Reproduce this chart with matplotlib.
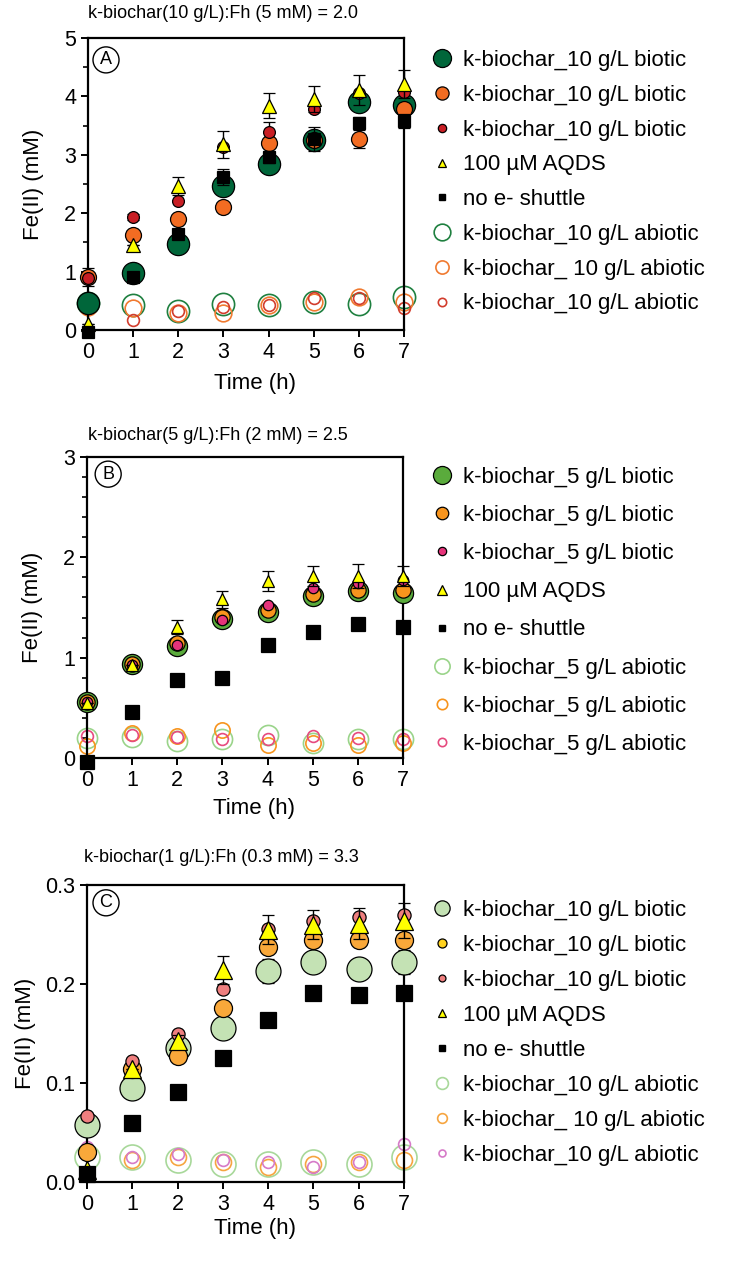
import numpy as np
import matplotlib
matplotlib.use("Agg")
import matplotlib.pyplot as plt
from matplotlib.lines import Line2D
from matplotlib.ticker import MultipleLocator

plt.rcParams['font.family'] = ['Liberation Sans', 'DejaVu Sans']

hours = [0, 1, 2, 3, 4, 5, 6, 7]

# ---- panel A : k-biochar 10 g/L, Fh 5 mM
a_bio1 = [0.46, 0.98, 1.47, 2.47, 2.85, 3.25, 3.90, 3.86]
a_bio2 = [0.91, 1.63, 1.90, 2.11, 3.20, 3.25, 3.27, 3.78]
a_bio3 = [0.89, 1.93, 2.21, 3.14, 3.39, 3.78, 4.06, 4.08]
a_aqds = [0.10, 1.46, 2.47, 3.18, 3.84, 3.96, 4.11, 4.21]
a_none = [-0.03, 0.90, 1.64, 2.62, 2.96, 3.27, 3.54, 3.58]
a_abio1 = [0.46, 0.43, 0.32, 0.44, 0.42, 0.48, 0.44, 0.57]
a_abio2 = [0.40, 0.38, 0.29, 0.29, 0.43, 0.48, 0.57, 0.48]
a_abio3 = [0.37, 0.17, 0.33, 0.40, 0.42, 0.54, 0.54, 0.38]
a_bio2_sd = [0.16, 0, 0.05, 0.05, 0, 0, 0.15, 0]
a_bio3_sd = [0, 0.05, 0, 0, 0.18, 0, 0, 0]
a_aqds_sd = [0, 0, 0.15, 0.23, 0.21, 0.22, 0.25, 0.24]
a_none_sd = [0, 0, 0, 0.13, 0.10, 0.20, 0.10, 0.12]

# ---- panel B : k-biochar 5 g/L, Fh 2 mM
b_bio1 = [0.56, 0.94, 1.12, 1.39, 1.46, 1.61, 1.66, 1.64]
b_bio2 = [0.56, 0.94, 1.15, 1.41, 1.48, 1.63, 1.67, 1.67]
b_bio3 = [0.56, 0.93, 1.13, 1.38, 1.52, 1.69, 1.74, 1.77]
b_aqds = [0.55, 0.93, 1.31, 1.58, 1.76, 1.81, 1.81, 1.81]
b_none = [-0.04, 0.46, 0.78, 0.80, 1.13, 1.26, 1.34, 1.31]
b_abio1 = [0.20, 0.21, 0.17, 0.19, 0.23, 0.15, 0.19, 0.19]
b_abio2 = [0.12, 0.25, 0.22, 0.28, 0.13, 0.15, 0.13, 0.15]
b_abio3 = [0.22, 0.23, 0.21, 0.19, 0.19, 0.22, 0.20, 0.19]
b_bio2_sd = [0, 0, 0, 0, 0.03, 0.03, 0.04, 0.03]
b_aqds_sd = [0, 0, 0.07, 0.08, 0.10, 0.10, 0.12, 0.10]
b_none_sd = [0, 0, 0, 0, 0, 0.03, 0.03, 0.02]

# ---- panel C : k-biochar 1 g/L, Fh 0.3 mM
c_bio1 = [0.058, 0.095, 0.135, 0.156, 0.213, 0.222, 0.215, 0.222]
c_bio2 = [0.030, 0.114, 0.127, 0.176, 0.237, 0.244, 0.244, 0.244]
c_bio3 = [0.067, 0.122, 0.149, 0.195, 0.256, 0.264, 0.268, 0.270]
c_aqds = [0.012, 0.114, 0.142, 0.214, 0.255, 0.260, 0.261, 0.264]
c_none = [0.008, 0.060, 0.091, 0.125, 0.164, 0.191, 0.189, 0.191]
c_abio1 = [0.025, 0.025, 0.022, 0.018, 0.018, 0.020, 0.018, 0.025]
c_abio2 = [0.030, 0.022, 0.025, 0.020, 0.015, 0.018, 0.020, 0.022]
c_abio3 = [0.035, 0.025, 0.028, 0.022, 0.020, 0.015, 0.020, 0.038]
c_bio1_sd = [0, 0, 0, 0, 0.012, 0.010, 0.010, 0.012]
c_bio2_sd = [0, 0, 0.006, 0.005, 0.004, 0.004, 0.004, 0.004]
c_aqds_sd = [0, 0, 0.006, 0.014, 0.015, 0.015, 0.016, 0.018]
c_none_sd = [0, 0, 0, 0, 0.005, 0.005, 0.005, 0.006]

titles = ["k-biochar(10 g/L):Fh (5 mM) = 2.0",
          "k-biochar(5 g/L):Fh (2 mM) = 2.5",
          "k-biochar(1 g/L):Fh (0.3 mM) = 3.3"]
labels_a = ["k-biochar_10 g/L biotic"] * 3 + ["100 \u00b5M AQDS", "no e- shuttle",
            "k-biochar_10 g/L abiotic", "k-biochar_ 10 g/L abiotic", "k-biochar_10 g/L abiotic"]
labels_b = ["k-biochar_5 g/L biotic"] * 3 + ["100 \u00b5M AQDS", "no e- shuttle"] + \
           ["k-biochar_5 g/L abiotic"] * 3
labels_c = labels_a

W, H = 746, 1265
fig = plt.figure(figsize=(W / 100, H / 100), dpi=100)


def add_axes(left, top, right, bottom):
    return fig.add_axes([left / W, 1 - bottom / H, (right - left) / W, (bottom - top) / H])


def draw_panel(ax, bio, abio, aqds, none, sds, fills, opens, sizes, osizes, tri_ms, sq_ms):
    ekw = dict(ecolor='black', elinewidth=1.0, capsize=4, capthick=1.0, ls='none')
    # abiotic controls (open circles) at the back
    for y, c, s in zip(abio, opens, osizes):
        ax.plot(hours, y, 'o', ms=s, mfc='none', mec=c, mew=1.2, clip_on=False, zorder=2)
    for y, c, s, sd in zip(bio, fills, sizes, sds[:3]):
        ax.errorbar(hours, y, yerr=sd, fmt='o', ms=s, mfc=c, mec='black', mew=0.9,
                    clip_on=False, zorder=3, **ekw)
    ax.errorbar(hours, aqds, yerr=sds[3], fmt='^', ms=tri_ms, mfc='#ffff00', mec='black',
                mew=0.9, clip_on=False, zorder=4, **ekw)
    ax.errorbar(hours, none, yerr=sds[4], fmt='s', ms=sq_ms, mfc='black', mec='black',
                mew=0.9, clip_on=False, zorder=5, **ekw)


def style_axes(ax, ymax, major, minor, fmt, letter, letter_xy, ylab_x, xlab_y):
    ax.set_xlim(0, 7)
    ax.set_ylim(0, ymax)
    ax.xaxis.set_major_locator(MultipleLocator(1))
    ax.yaxis.set_major_locator(MultipleLocator(major))
    if minor:
        ax.yaxis.set_minor_locator(MultipleLocator(minor))
    ax.yaxis.set_major_formatter(fmt)
    for sp in ax.spines.values():
        sp.set_linewidth(1.6)
    ax.tick_params(which='major', direction='out', length=5, width=1.4, labelsize=15.5)
    ax.tick_params(which='minor', direction='out', length=3.5, width=1.2)
    ax.set_xlabel("Time (h)", fontsize=16)
    ax.set_ylabel("Fe(II) (mM)", fontsize=16)
    ax.xaxis.set_label_coords(0.53, xlab_y)
    ax.yaxis.set_label_coords(ylab_x, 0.5)
    ax.text(letter_xy[0], letter_xy[1], letter, transform=ax.transAxes, fontsize=13,
            ha='center', va='center',
            bbox=dict(boxstyle='circle,pad=0.25', fc='white', ec='black', lw=1.0))


def legend_handles(fills, opens, sizes, osizes, tri_ms, sq_ms):
    hs = []
    for c, s in zip(fills, sizes):
        hs.append(Line2D([], [], ls='none', marker='o', ms=s, mfc=c, mec='black', mew=0.9))
    hs.append(Line2D([], [], ls='none', marker='^', ms=tri_ms, mfc='#ffff00', mec='black', mew=0.9))
    hs.append(Line2D([], [], ls='none', marker='s', ms=sq_ms, mfc='black', mec='black'))
    for c, s in zip(opens, osizes):
        hs.append(Line2D([], [], ls='none', marker='o', ms=s, mfc='none', mec=c, mew=1.2))
    return hs


def put_legend(ax, handles, labels, left_px, top_px, spacing):
    ax.legend(handles, labels, loc='upper left',
              bbox_to_anchor=(left_px / W, 1 - top_px / H), bbox_transform=fig.transFigure,
              frameon=False, fontsize=16, handlelength=1.0, handletextpad=0.45,
              borderpad=0, borderaxespad=0, labelspacing=spacing)


def put_title(text, x_px, y_px):
    fig.text(x_px / W, 1 - y_px / H, text, fontsize=13, ha='left', va='center')


fmt_int = plt.FuncFormatter(lambda v, p: f"{v:.0f}")
fmt_one = plt.FuncFormatter(lambda v, p: f"{v:.1f}")

# panel A
axA = add_axes(88, 38, 404, 330)
fills = ['#00663a', '#f26c22', '#c81e24']
opens = ['#1f8040', '#f07a30', '#d23c2c']
draw_panel(axA, [a_bio1, a_bio2, a_bio3], [a_abio1, a_abio2, a_abio3], a_aqds, a_none,
           [None, a_bio2_sd, a_bio3_sd, a_aqds_sd, a_none_sd],
           fills, opens, [16, 11.5, 8.5], [16, 12, 8.5], 10, 8.5)
style_axes(axA, 5, 1, 0.5, fmt_int, "A", (0.057, 0.925), -0.14, -0.147)
put_title(titles[0], 88, 14)
put_legend(axA, legend_handles(fills, opens, [13, 9.5, 6], [12, 9.5, 6], 6, 5),
           labels_a, 431, 50, 0.62)

# panel B
axB = add_axes(87, 457, 403, 758)
fills = ['#5aab3c', '#f7941d', '#e6337a']
opens = ['#9ad48a', '#f7941d', '#e64a7f']
draw_panel(axB, [b_bio1, b_bio2, b_bio3], [b_abio1, b_abio2, b_abio3], b_aqds, b_none,
           [None, b_bio2_sd, None, b_aqds_sd, b_none_sd],
           fills, opens, [14.5, 11, 7.5], [14.5, 11, 8.5], 9, 9.5)
style_axes(axB, 3, 1, 0.2, fmt_int, "B", (0.067, 0.943), -0.14, -0.133)
put_title(titles[1], 88, 436)
put_legend(axB, legend_handles(fills, opens, [13, 9, 6], [11, 7.5, 6], 7, 5),
           labels_b, 431, 467, 0.77)

# panel C
axC = add_axes(87, 885, 404, 1182)
fills = ['#c4e2b4', '#f9a83a', '#ef7f7f']
opens = ['#a8d89a', '#f6a540', '#d67ac8']
draw_panel(axC, [c_bio1, c_bio2, c_bio3], [c_abio1, c_abio2, c_abio3], c_aqds, c_none,
           [c_bio1_sd, c_bio2_sd, None, c_aqds_sd, c_none_sd],
           fills, opens, [18, 13, 9.5], [18, 11.5, 8.5], 13, 11)
style_axes(axC, 0.3, 0.1, None, fmt_one, "C", (0.06, 0.94), -0.16, -0.12)
put_title(titles[2], 84, 858)
put_legend(axC, legend_handles(['#c4e2b4', '#ffd21f', '#ef7f7f'], opens, [11, 6.5, 5],
                               [8.5, 7, 5], 5.5, 5),
           labels_c, 431, 900, 0.63)

fig.savefig("out.png", dpi=100)
